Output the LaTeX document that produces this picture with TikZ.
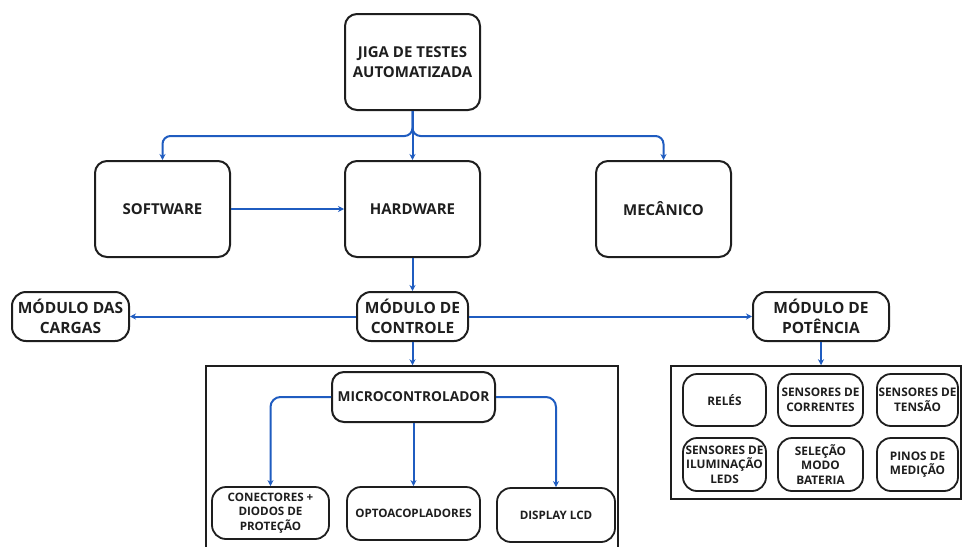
\documentclass[tikz,border=0pt]{standalone}
\usepackage{fontspec}
\setmainfont{Open Sans}
\usetikzlibrary{arrows.meta}
\definecolor{linkblue}{HTML}{1F5CC0}
\definecolor{inkc}{HTML}{1E1E1E}
\begin{document}
\begin{tikzpicture}[x=1pt,y=-1pt,
  box/.style={draw=inkc, line width=2pt, rounded corners=12pt, align=center, inner sep=0pt, text=inkc,
    font=\bfseries\fontsize{15}{20}\selectfont},
  midbox/.style={box, rounded corners=14pt, font=\bfseries\fontsize{15.5}{20}\selectfont},
  microbox/.style={box, rounded corners=12pt, font=\bfseries\fontsize{13.7}{17}\selectfont},
  smallbox/.style={box, line width=1.8pt, rounded corners=14pt, font=\bfseries\fontsize{11.6}{14.5}\selectfont},
  gridbox/.style={smallbox, font=\bfseries\fontsize{11.8}{14.5}\selectfont},
  frame/.style={draw=inkc, line width=1.5pt, inner sep=0pt},
  link/.style={draw=linkblue, line width=2pt, -{Stealth[length=6pt,width=6pt]}, rounded corners=8pt}]
\useasboundingbox (0,0) rectangle (963,546);
\clip (0,0) rectangle (963,546);

% frames
\node[frame, minimum width=412pt, minimum height=194pt] (ctrlframe) at (412,463) {};
\node[frame, minimum width=290pt, minimum height=133pt] (pframe) at (816,432.5) {};

% top level
\node[box, minimum width=135pt, minimum height=96pt] (jiga) at (412.5,62) {JIGA DE TESTES\\AUTOMATIZADA};
\node[box, minimum width=135pt, minimum height=96pt] (software) at (162.5,209) {SOFTWARE};
\node[box, minimum width=135pt, minimum height=96pt] (hardware) at (412.5,209) {HARDWARE};
\node[box, minimum width=135pt, minimum height=96pt] (mecanico) at (663.5,209) {MECÂNICO};

% modules
\node[midbox, minimum width=117pt, minimum height=49pt] (cargas) at (70.5,316.5) {MÓDULO DAS\\CARGAS};
\node[midbox, minimum width=111pt, minimum height=49pt] (controle) at (412.5,316.5) {MÓDULO DE\\CONTROLE};
\node[midbox, minimum width=136pt, minimum height=49pt] (potencia) at (821,316.5) {MÓDULO DE\\POTÊNCIA};

% control block
\node[microbox, minimum width=163pt, minimum height=50pt] (micro) at (413.5,397) {MICROCONTROLADOR};
\node[smallbox, minimum width=117pt, minimum height=52pt] (conectores) at (270.5,513) {CONECTORES +\\DIODOS DE\\PROTEÇÃO};
\node[smallbox, minimum width=133pt, minimum height=53pt] (opto) at (413.5,513.5) {OPTOACOPLADORES};
\node[smallbox, minimum width=118pt, minimum height=54pt] (display) at (556,515) {DISPLAY LCD};

% power block
\node[gridbox, minimum width=83pt, minimum height=52pt] (reles) at (724.5,400) {RELÉS};
\node[gridbox, minimum width=85pt, minimum height=52pt] (correntes) at (820.5,400) {SENSORES DE\\CORRENTES};
\node[gridbox, minimum width=81pt, minimum height=52pt] (tensao) at (917.5,400) {SENSORES DE\\TENSÃO};
\node[gridbox, minimum width=83pt, minimum height=53pt] (iluminacao) at (724.5,464.5) {SENSORES DE\\ILUMINAÇÃO\\LEDS};
\node[gridbox, minimum width=85pt, minimum height=53pt] (selecao) at (820.5,464.5) {SELEÇÃO\\MODO\\BATERIA};
\node[gridbox, minimum width=81pt, minimum height=53pt] (pinos) at (917.5,464.5) {PINOS DE\\MEDIÇÃO};

% connectors
\draw[link] (jiga.south) -- ++(0,25) -| (software.north);
\draw[link] (jiga.south) -- ++(0,25) -| (mecanico.north);
\draw[link] (jiga.south) -- (hardware.north);
\draw[link] (software.east) -- (hardware.west);
\draw[link] (hardware.south) -- (controle.north);
\draw[link] (controle.west) -- (cargas.east);
\draw[link] (controle.east) -- (potencia.west);
\draw[link] (controle.south) -- (controle.south |- ctrlframe.north);
\draw[link, rounded corners=10pt] (micro.west) -| (conectores.north);
\draw[link, rounded corners=10pt] (micro.east) -| (display.north);
\draw[link] (micro.south) -- (opto.north);
\draw[link] (potencia.south) -- (potencia.south |- pframe.north);
\end{tikzpicture}
\end{document}
